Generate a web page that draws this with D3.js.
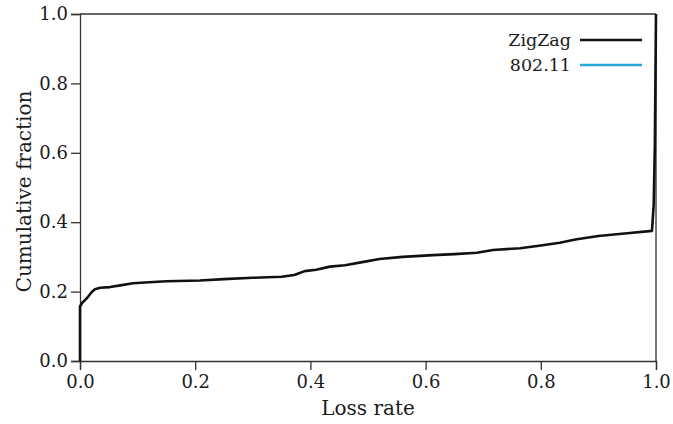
<!DOCTYPE html>
<html>
<head>
<meta charset="utf-8">
<script src="https://cdn.jsdelivr.net/npm/d3@7"></script>
<style>
  body { margin: 0; background: #fff; }
  svg text { font-family: "DejaVu Serif", serif; fill: #1a1a1a; }
</style>
</head>
<body>
<div id="chart"></div>
<script>
// loss rate (x) vs cumulative fraction (y)
const lossRate = [0.0, 0.0, 0.004, 0.009, 0.014, 0.02, 0.026, 0.035, 0.052, 0.07, 0.092, 0.12, 0.15, 0.208,
  0.25, 0.3, 0.35, 0.372, 0.39, 0.41, 0.434, 0.46, 0.49, 0.52, 0.56, 0.613, 0.65, 0.689, 0.717, 0.764,
  0.8, 0.833, 0.86, 0.9, 0.95, 0.993, 0.996, 0.998, 1.0];
const zigzagCdf = [0.0, 0.157, 0.168, 0.176, 0.185, 0.198, 0.207, 0.211, 0.213, 0.218, 0.224, 0.227, 0.23, 0.232,
  0.236, 0.24, 0.243, 0.248, 0.259, 0.263, 0.272, 0.276, 0.285, 0.294, 0.3, 0.305, 0.308, 0.312, 0.32, 0.325,
  0.333, 0.341, 0.35, 0.36, 0.368, 0.375, 0.45, 0.62, 1.0];
const wifiLoss = [];   // 802.11 never shows up on the plot, legend only
const wifiCdf = [];
const xTicks = [0, 0.2, 0.4, 0.6, 0.8, 1.0];
const yTicks = [0, 0.2, 0.4, 0.6, 0.8, 1.0];
const seriesNames = ["ZigZag", "802.11"];
const seriesColors = ["#111111", "#2aa6d8"];

const width = 673, height = 424;
const margin = { top: 14, right: 17, bottom: 63, left: 80 };

let svg = d3.select("#chart").append("svg")
    .attr("width", width)
    .attr("height", height);

let x = d3.scaleLinear().domain([0, 1]).range([margin.left, width - margin.right]);
let y = d3.scaleLinear().domain([0, 1]).range([height - margin.bottom, margin.top]);

let axisColor = "#333";

// frame: top and right lines
svg.append("line")
    .attr("x1", x(0)).attr("x2", x(1))
    .attr("y1", y(1)).attr("y2", y(1))
    .attr("stroke", axisColor).attr("stroke-width", 1.3);
svg.append("line")
    .attr("x1", x(1)).attr("x2", x(1))
    .attr("y1", y(1)).attr("y2", y(0))
    .attr("stroke", axisColor).attr("stroke-width", 1.3);

let xAxis = svg.append("g")
    .attr("transform", `translate(0,${y(0)})`)
    .call(d3.axisBottom(x).tickValues(xTicks).tickFormat(d3.format(".1f")).tickSize(9).tickPadding(5));
let yAxis = svg.append("g")
    .attr("transform", `translate(${x(0)},0)`)
    .call(d3.axisLeft(y).tickValues(yTicks).tickFormat(d3.format(".1f")).tickSize(9).tickPadding(3));

[xAxis, yAxis].forEach(ax => {
    ax.select(".domain").attr("stroke", axisColor).attr("stroke-width", 1.3);
    ax.selectAll(".tick line").attr("stroke", axisColor).attr("stroke-width", 1.3);
    ax.selectAll(".tick text").style("font-family", "DejaVu Serif").style("font-size", "18px").attr("fill", "#1a1a1a");
});

let line = d3.line()
    .x(d => x(d[0]))
    .y(d => y(d[1]));

svg.append("path")
    .datum(d3.zip(wifiLoss, wifiCdf))
    .attr("fill", "none")
    .attr("stroke", seriesColors[1])
    .attr("stroke-width", 2.5)
    .attr("d", line);

svg.append("path")
    .datum(d3.zip(lossRate, zigzagCdf))
    .attr("fill", "none")
    .attr("stroke", seriesColors[0])
    .attr("stroke-width", 2.6)
    .attr("stroke-linejoin", "round")
    .attr("d", line);

// axis titles
svg.append("text")
    .attr("x", (x(0) + x(1)) / 2)
    .attr("y", 415)
    .attr("text-anchor", "middle")
    .style("font-size", "20px")
    .text("Loss rate");
svg.append("text")
    .attr("transform", `translate(31,${(y(0) + y(1)) / 2 + 4}) rotate(-90)`)
    .attr("text-anchor", "middle")
    .style("font-size", "20px")
    .text("Cumulative fraction");

// legend
let legend = svg.append("g");
seriesNames.forEach((name, i) => {
    let ly = 40 + i * 25;
    legend.append("text")
        .attr("x", 571).attr("y", ly)
        .attr("dy", "0.35em")
        .attr("text-anchor", "end")
        .style("font-size", "17.5px")
        .text(name);
    legend.append("line")
        .attr("x1", 580).attr("x2", 642)
        .attr("y1", ly).attr("y2", ly)
        .attr("stroke", seriesColors[i])
        .attr("stroke-width", 2.5);
});
</script>
</body>
</html>
